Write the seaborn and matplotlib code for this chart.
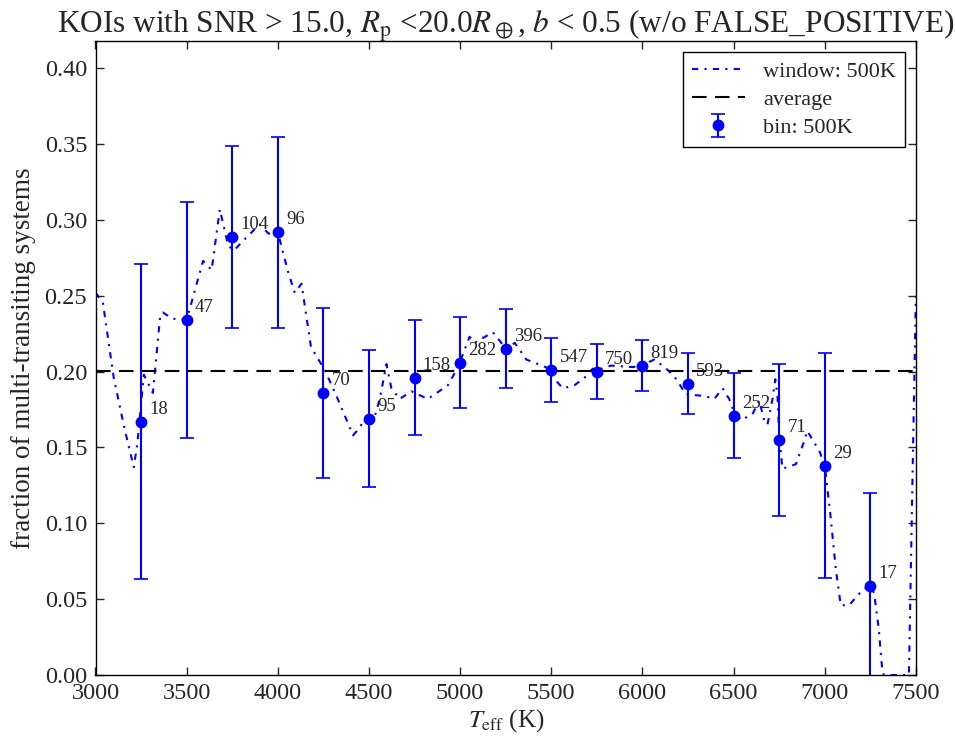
import numpy as np
import pandas as pd
import matplotlib
matplotlib.use("Agg")
import matplotlib.pyplot as plt
import seaborn as sns

# Binned fraction of multi-transiting systems (500 K bins)
bin_teff = [3250, 3500, 3750, 4000, 4250, 4500, 4750, 5000, 5250,
            5500, 5750, 6000, 6250, 6500, 6750, 7000, 7250]
bin_frac = [0.167, 0.234, 0.289, 0.292, 0.186, 0.169, 0.196, 0.206, 0.215,
            0.201, 0.200, 0.204, 0.192, 0.171, 0.155, 0.138, 0.059]
bin_err = [0.104, 0.078, 0.060, 0.063, 0.056, 0.045, 0.038, 0.030, 0.026,
           0.021, 0.018, 0.017, 0.020, 0.028, 0.050, 0.074, 0.061]
bin_count = [18, 47, 104, 96, 70, 95, 158, 282, 396,
             547, 750, 819, 593, 252, 71, 29, 17]

# Sliding 500 K window
window_teff = [3000, 3040, 3100, 3160, 3210, 3230, 3265, 3315, 3355, 3370,
               3420, 3500, 3590, 3637, 3682, 3728, 3760, 3840, 3900, 3950,
               4000, 4056, 4093, 4130, 4181, 4203, 4258, 4322, 4413, 4449,
               4476, 4531, 4559, 4577, 4596, 4623, 4668, 4733, 4823, 4933,
               4970, 4998, 5052, 5079, 5180, 5253, 5300, 5363, 5427, 5490,
               5527, 5563, 5627, 5682, 5728, 5750, 5828, 5947, 5993, 6066,
               6130, 6175, 6239, 6340, 6394, 6440, 6476, 6495, 6540, 6604,
               6641, 6668, 6686, 6714, 6729, 6741, 6750, 6768, 6842, 6887,
               6905, 6933, 6970, 7001, 7030, 7061, 7088, 7134, 7207, 7249,
               7271, 7297, 7316, 7325, 7462, 7500]
window_frac = [0.252, 0.246, 0.196, 0.162, 0.137, 0.153, 0.198, 0.186, 0.237, 0.239,
               0.235, 0.234, 0.273, 0.267, 0.307, 0.283, 0.280, 0.290, 0.297, 0.291,
               0.292, 0.266, 0.252, 0.258, 0.217, 0.212, 0.201, 0.184, 0.158, 0.163,
               0.169, 0.170, 0.182, 0.193, 0.205, 0.189, 0.182, 0.187, 0.182, 0.191,
               0.199, 0.206, 0.223, 0.219, 0.226, 0.215, 0.219, 0.208, 0.205, 0.202,
               0.194, 0.189, 0.191, 0.196, 0.202, 0.201, 0.204, 0.203, 0.204, 0.208,
               0.202, 0.197, 0.185, 0.184, 0.182, 0.189, 0.182, 0.176, 0.168, 0.172,
               0.181, 0.168, 0.165, 0.182, 0.195, 0.184, 0.160, 0.136, 0.139, 0.154,
               0.161, 0.155, 0.148, 0.138, 0.107, 0.070, 0.046, 0.046, 0.056, 0.059,
               0.054, 0.030, 0.003, 0.0, 0.0, 0.250]

average_frac = 0.2007

sns.set_style("ticks")
plt.rcParams["font.family"] = ["Liberation Serif", "DejaVu Serif"]
plt.rcParams["mathtext.fontset"] = "stix"

fig = plt.figure(figsize=(9.55, 7.42), dpi=100)
ax = fig.add_axes([0.1, 0.0903, 0.859, 0.8544])

win_df = pd.DataFrame({"teff": window_teff, "frac": window_frac})
sns.lineplot(data=win_df, x="teff", y="frac", ax=ax, color="blue",
             estimator=None, sort=False, lw=1.5, label="window: 500K")
ax.lines[-1].set_dashes((3, 3, 1, 3))

avg_line = ax.axhline(average_frac, color="black", lw=1.5, label="average")
avg_line.set_dashes((7, 4))

eb = ax.errorbar(bin_teff, bin_frac, yerr=bin_err, fmt="o", color="blue",
                 ms=7.5, lw=1.5, capsize=5, capthick=1.2, label="bin: 500K")

for t, f, n in zip(bin_teff, bin_frac, bin_count):
    ax.annotate(str(n), (t, f), xytext=(6, 9), textcoords="offset points",
                ha="left", va="center", fontsize=13.5)

ax.set_xlim(3000, 7500)
ax.set_ylim(0, 0.418)
ax.set_xticks(np.arange(3000, 7501, 500))
ax.set_yticks(np.arange(0, 0.401, 0.05))
ax.set_yticklabels([f"{v:.2f}" for v in np.arange(0, 0.401, 0.05)])
ax.tick_params(direction="in", top=True, right=True, length=5.5, width=1,
               labelsize=17.5, pad=6)
for s in ax.spines.values():
    s.set_linewidth(1.0)
    s.set_color("black")

ax.set_xlabel(r"$T_{\rm eff}$ (K)", fontsize=18, labelpad=2)
ax.set_ylabel("fraction of multi-transiting systems", fontsize=19.5, labelpad=6)
ax.set_title(r"KOIs with SNR > 15.0, $R_{\rm p}$ <20.0$R_\oplus$, $b$ < 0.5 (w/o FALSE_POSITIVE)",
             fontsize=22.5, pad=6)

handles = [ax.lines[0], avg_line, eb]
leg = ax.legend(handles=handles, labels=["window: 500K", "average", "bin: 500K"],
                loc="upper right", fontsize=16, fancybox=False, framealpha=1,
                edgecolor="black", handlelength=2.4, borderaxespad=0.5,
                labelspacing=0.35)
leg.get_frame().set_linewidth(1.0)

fig.savefig("out.png", dpi=100)
